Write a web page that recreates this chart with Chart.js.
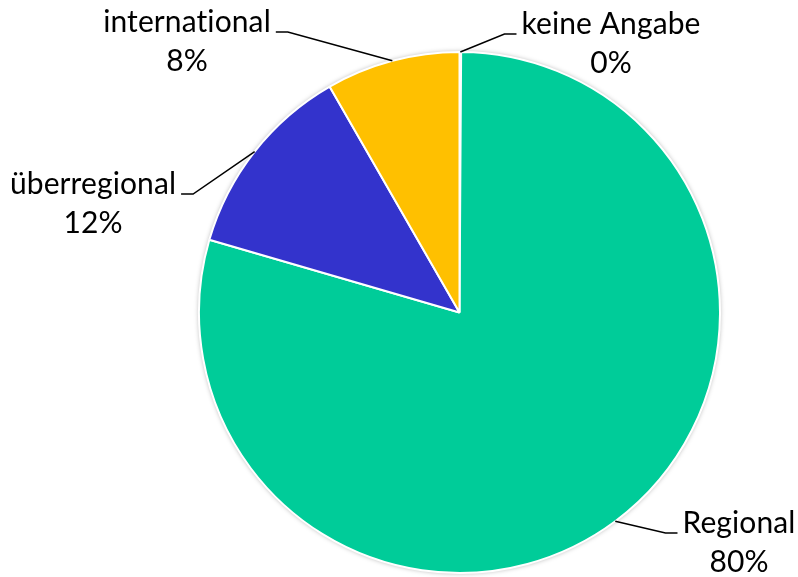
<!DOCTYPE html>
<html>
<head>
<meta charset="utf-8">
<script src="https://cdn.jsdelivr.net/npm/chart.js@4/dist/chart.umd.min.js"></script>
<style>
    html, body { margin: 0; padding: 0; background: #fff; }
    #wrap { width: 798px; height: 577px; position: relative; }
</style>
</head>
<body>
<div id="wrap"><canvas id="pieChart"></canvas></div>
<script>
// Slices, in drawing order (clockwise from 12 o'clock)
const categories = ['keine Angabe', 'Regional', 'überregional', 'international'];
const shares = [0.1, 79.4, 12.2, 8.3];
const percentLabels = ['0%', '80%', '12%', '8%'];
const sliceColors = ['#FFFFFF', '#00CC99', '#3333CC', '#FFC000'];

// Where each label block sits (center x, baseline of first line) and which side the leader attaches
const labelLayout = [
    { x: 611, y: 34, side: 'left' },
    { x: 739, y: 533, side: 'left' },
    { x: 93, y: 194, side: 'right' },
    { x: 187, y: 32, side: 'right' }
];

const FONT = '30px Lato';
const LINE_GAP = 39;

// soft shadow under the whole pie, like the original
const pieShadow = {
    id: 'pieShadow',
    beforeDatasetsDraw(chart) {
        const arc = chart.getDatasetMeta(0).data[0];
        if (!arc) return;
        const ctx = chart.ctx;
        ctx.save();
        ctx.shadowColor = 'rgba(0, 0, 0, 0.35)';
        ctx.shadowBlur = 5;
        ctx.fillStyle = '#fff';
        ctx.beginPath();
        ctx.arc(arc.x, arc.y, arc.outerRadius, 0, Math.PI * 2);
        ctx.fill();
        ctx.restore();
    }
};

// outside labels with leader lines
const outsideLabels = {
    id: 'outsideLabels',
    afterDatasetsDraw(chart) {
        const ctx = chart.ctx;
        const arcs = chart.getDatasetMeta(0).data;
        ctx.save();
        ctx.font = FONT;
        ctx.letterSpacing = '0.1px'; // keeps Lato from joining "ti"
        ctx.fillStyle = '#000';
        ctx.textAlign = 'center';
        ctx.textBaseline = 'alphabetic';

        arcs.forEach((arc, i) => {
            const pos = labelLayout[i];
            const mid = (arc.startAngle + arc.endAngle) / 2;
            const ax = arc.x + Math.cos(mid) * arc.outerRadius;
            const ay = arc.y + Math.sin(mid) * arc.outerRadius;

            const w = ctx.measureText(categories[i]).width;
            const edge = pos.side === 'left' ? pos.x - w / 2 - 5 : pos.x + w / 2 + 5;
            const elbow = pos.side === 'left' ? edge - 12 : edge + 12;

            ctx.strokeStyle = '#000';
            ctx.lineWidth = 1.5;
            ctx.beginPath();
            ctx.moveTo(ax, ay);
            ctx.lineTo(elbow, pos.y);
            ctx.lineTo(edge, pos.y);
            ctx.stroke();

            ctx.fillText(categories[i], pos.x, pos.y);
            ctx.fillText(percentLabels[i], pos.x, pos.y + LINE_GAP);
        });
        ctx.restore();
    }
};

const ctx = document.getElementById('pieChart').getContext('2d');
new Chart(ctx, {
    type: 'pie',
    data: {
        labels: categories,
        datasets: [{
            data: shares,
            backgroundColor: sliceColors,
            borderColor: '#FFFFFF',
            borderWidth: 2
        }]
    },
    options: {
        responsive: true,
        maintainAspectRatio: false,
        animation: false,
        rotation: 0,
        layout: {
            padding: { top: 51, bottom: 3, left: 198, right: 77 }
        },
        plugins: {
            legend: { display: false },
            tooltip: { enabled: false },
            title: { display: false }
        }
    },
    plugins: [pieShadow, outsideLabels]
});
</script>
</body>
</html>
